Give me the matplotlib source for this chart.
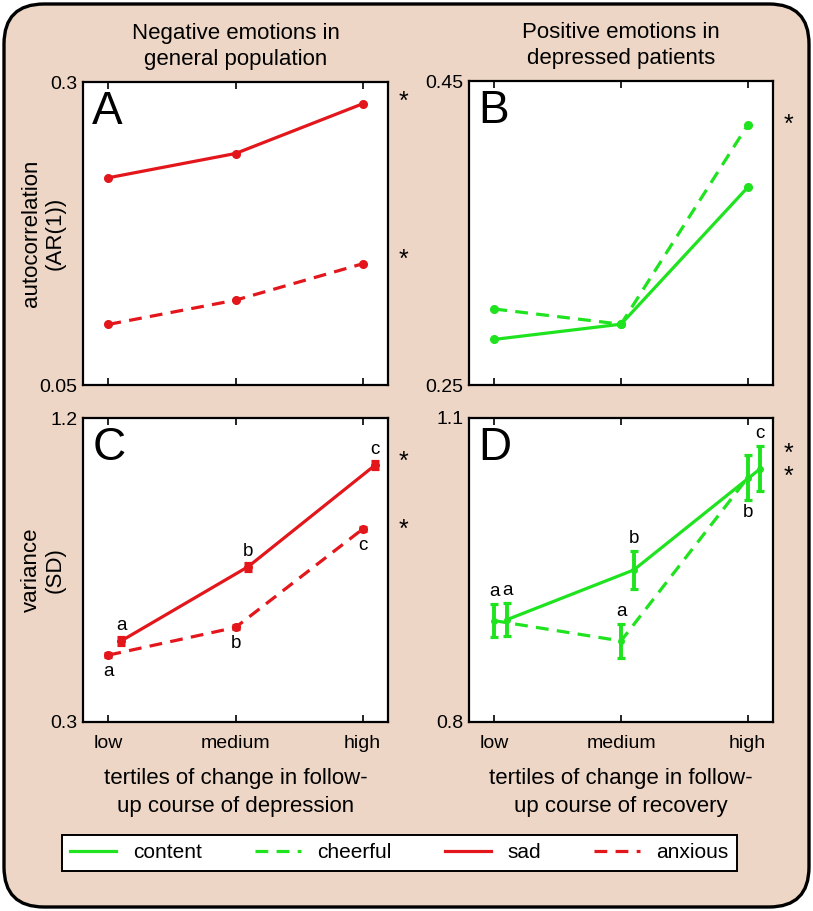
import matplotlib
matplotlib.use("Agg")
import matplotlib.pyplot as plt
from matplotlib.patches import FancyBboxPatch
from matplotlib.lines import Line2D
import numpy as np

plt.rcParams['font.family'] = ['Liberation Sans', 'DejaVu Sans']

tertiles = ['low', 'medium', 'high']
x = np.array([1, 2, 3])

# panel A: autocorrelation, negative emotions
ar_sad = [0.221, 0.241, 0.282]
ar_anxious = [0.100, 0.120, 0.150]
# panel B: autocorrelation, positive emotions
ar_content = [0.280, 0.290, 0.380]
ar_cheerful = [0.300, 0.290, 0.421]
# panel C: variance, negative emotions
sd_sad = [0.540, 0.760, 1.061]
sd_sad_err = [0.012, 0.012, 0.012]
sd_anxious = [0.498, 0.580, 0.871]
sd_anxious_err = [0.006, 0.006, 0.006]
letters_sad = ['a', 'b', 'c']
letters_anxious = ['a', 'b', 'c']
# panel D: variance, positive emotions
sd_content = [0.901, 0.950, 1.050]
sd_content_err = [0.0165, 0.019, 0.022]
sd_cheerful = [0.900, 0.880, 1.041]
sd_cheerful_err = [0.0165, 0.017, 0.022]
letters_content = ['a', 'b', 'c']
letters_cheerful = ['a', 'a', 'b']

RED = '#E3161B'
GREEN = '#1EE31E'
BG = '#EDD6C5'
LW = 2.3
DASH = (4, 2.6)

fig = plt.figure(figsize=(8.13, 9.11), dpi=100, facecolor='white')
W, H = 813, 911

# rounded beige panel with black border
bg = FancyBboxPatch((40, 40), W - 80, H - 80,
                    boxstyle='round,pad=36,rounding_size=40',
                    transform=None, facecolor=BG, edgecolor='black',
                    linewidth=2.4, zorder=-10)
fig.patches.append(bg)


def make_ax(left, top, right, bottom):
    return fig.add_axes([left / W, 1 - bottom / H, (right - left) / W, (bottom - top) / H])


axA = make_ax(83, 82, 388, 385)
axB = make_ax(469, 81, 773, 385)
axC = make_ax(83, 418, 388, 722)
axD = make_ax(469, 418, 773, 722)

ylims = {axA: (0.05, 0.3), axB: (0.25, 0.45), axC: (0.3, 1.2), axD: (0.8, 1.1)}
ylabs = {axA: ['0.05', '0.3'], axB: ['0.25', '0.45'], axC: ['0.3', '1.2'], axD: ['0.8', '1.1']}
for ax in [axA, axB, axC, axD]:
    ax.set_xlim(0.8, 3.2)
    ax.set_ylim(*ylims[ax])
    ax.set_yticks(ylims[ax])
    ax.set_yticklabels(ylabs[ax])
    ax.set_xticks(x)
    ax.tick_params(axis='x', direction='in', top=True, length=5, width=1.2, labelsize=14, pad=9)
    ax.tick_params(axis='y', length=0, labelsize=14, pad=4)
    for s in ax.spines.values():
        s.set_linewidth(1.6)
    ax.set_facecolor('white')
for ax in [axA, axB]:
    ax.set_xticklabels([])
for ax in [axC, axD]:
    ax.set_xticklabels(tertiles)

# panel A
axA.plot(x, ar_sad, color=RED, lw=LW, marker='o', ms=5.5)
axA.plot(x, ar_anxious, color=RED, lw=LW, marker='o', ms=5.5, linestyle=(0, DASH))
# panel B
axB.plot(x, ar_content, color=GREEN, lw=LW, marker='o', ms=5.5)
axB.plot(x, ar_cheerful, color=GREEN, lw=LW, marker='o', ms=5.5, linestyle=(0, DASH))
# panel C
axC.errorbar(x + 0.1, sd_sad, yerr=sd_sad_err, color=RED, lw=LW, marker='o', ms=5.5,
             elinewidth=LW, capsize=3, capthick=LW)
axC.errorbar(x, sd_anxious, yerr=sd_anxious_err, color=RED, lw=LW, marker='o', ms=5.5,
             elinewidth=LW, capsize=3, capthick=LW, linestyle=(0, DASH))
# panel D
axD.errorbar(x + 0.1, sd_content, yerr=sd_content_err, color=GREEN, lw=LW, marker='o', ms=4,
             elinewidth=2.8, capsize=3, capthick=LW)
axD.errorbar(x, sd_cheerful, yerr=sd_cheerful_err, color=GREEN, lw=LW, marker='o', ms=4,
             elinewidth=2.8, capsize=3, capthick=LW, linestyle=(0, DASH))


def put_letters(ax, xs, ys, errs, letters, where, gap):
    for xi, yi, ei, t, w in zip(xs, ys, errs, letters, where):
        sign = 1 if w == 'above' else -1
        ax.annotate(t, (xi, yi + sign * ei), xytext=(0, sign * gap), textcoords='offset points',
                    ha='center', va='center', fontsize=13.5)


put_letters(axC, x + 0.1, sd_sad, sd_sad_err, letters_sad, ['above'] * 3, 8)
put_letters(axC, x, sd_anxious, sd_anxious_err, letters_anxious, ['below'] * 3, 10)
put_letters(axD, x + 0.1, sd_content, sd_content_err, letters_content, ['above'] * 3, 9)
put_letters(axD, x, sd_cheerful, sd_cheerful_err, letters_cheerful, ['above', 'above', 'below'], 9)

# panel letters
for ax, t in zip([axA, axB, axC, axD], 'ABCD'):
    ax.text(0.03, 0.975, t, transform=ax.transAxes, fontsize=33, va='top', ha='left')

# significance stars (x in axes coords, y in data)
stars = {axA: [0.284, 0.153], axB: [0.421], axC: [1.07, 0.87], axD: [1.065, 1.042]}
for ax, ys in stars.items():
    for yv in ys:
        ax.text(1.05, yv, '*', transform=ax.get_yaxis_transform(), fontsize=18,
                ha='center', va='center', clip_on=False)

# titles and axis labels
axA.set_title('Negative emotions in\ngeneral population', fontsize=16, pad=12, linespacing=1.35)
axB.set_title('Positive emotions in\ndepressed patients', fontsize=16, pad=12, linespacing=1.35)
axA.text(-0.13, 0.5, 'autocorrelation\n(AR(1))', transform=axA.transAxes, rotation=90,
         ha='center', va='center', fontsize=16)
axC.text(-0.13, 0.5, 'variance\n(SD)', transform=axC.transAxes, rotation=90,
         ha='center', va='center', fontsize=16)
axC.set_xlabel('tertiles of change in follow-\nup course of depression', fontsize=16,
               labelpad=12, linespacing=1.4)
axD.set_xlabel('tertiles of change in follow-\nup course of recovery', fontsize=16,
               labelpad=12, linespacing=1.4)

# legend
handles = [Line2D([], [], color=GREEN, lw=LW),
           Line2D([], [], color=GREEN, lw=LW, linestyle=(0, DASH)),
           Line2D([], [], color=RED, lw=LW),
           Line2D([], [], color=RED, lw=LW, linestyle=(0, DASH))]
names = ['content', 'cheerful', 'sad', 'anxious']
leg = fig.legend(handles, names, loc='center', ncol=4, mode='expand',
                 bbox_to_anchor=(62 / W, 1 - 874 / H, 675 / W, 42 / H),
                 fontsize=15, frameon=True, fancybox=False, framealpha=1,
                 edgecolor='black', handlelength=2.2, borderaxespad=0)
leg.get_frame().set_linewidth(1.4)

fig.savefig('out.png', dpi=100, facecolor='white')
